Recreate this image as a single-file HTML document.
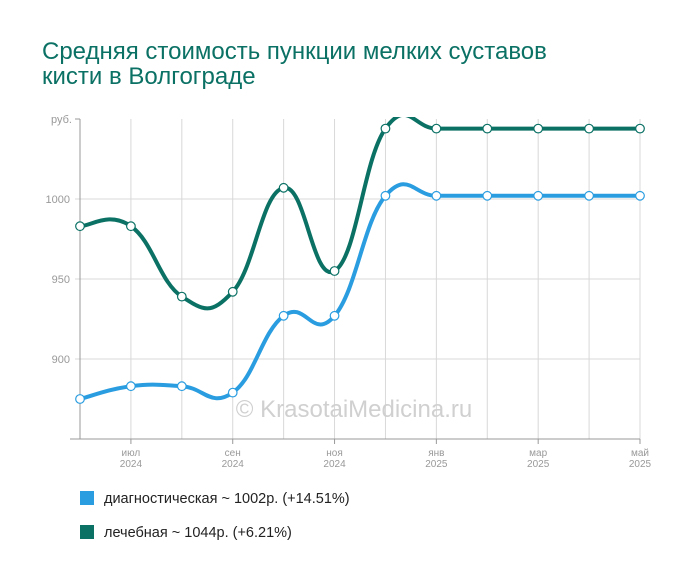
<!DOCTYPE html>
<html><head><meta charset="utf-8">
<style>
body{margin:0;background:#fff;width:700px;height:582px;overflow:hidden;font-family:"Liberation Sans",sans-serif;}
#title{position:absolute;left:42px;top:39px;font-size:24px;line-height:25px;color:#0b7165;}
.leg{position:absolute;left:80px;font-size:14.5px;color:#222;}
.leg span{display:inline-block;width:14px;height:14px;vertical-align:-2px;margin-right:10px;}
</style></head><body>
<div id="title">Средняя стоимость пункции мелких суставов<br>кисти в Волгограде</div>
<svg id="chart" width="700" height="582" style="position:absolute;left:0;top:0"></svg>
<div class="leg" style="top:491px"><span style="background:#2a9de0"></span>диагностическая ~ 1002р. (+14.51%)</div>
<div class="leg" style="top:525px"><span style="background:#0b7165"></span>лечебная ~ 1044р. (+6.21%)</div>
<script>
const months = ["","июл","","сен","","ноя","","янв","","мар","","май"];
const years = ["","2024","","2024","","2024","","2025","","2025","","2025"];
const yTicks = [900,950,1000];
const diagnostic = [875,883,883,879,927,927,1002,1002,1002,1002,1002,1002];
const treatment = [983,983,939,942,1007,955,1044,1044,1044,1044,1044,1044];

const svg=document.getElementById('chart');
const NS='http://www.w3.org/2000/svg';
const X0=80,DX=(640-80)/11;
const x=i=>X0+i*DX;
const y=v=>199-(v-1000)*1.6;
function mk(t,a,p){const e=document.createElementNS(NS,t);for(const k in a)e.setAttribute(k,a[k]);(p||svg).appendChild(e);return e;}
const defs=mk('defs',{});
const cp=mk('clipPath',{id:'plot'},defs);
mk('rect',{x:78,y:117,width:567,height:322},cp);
for(let i=1;i<12;i++){
  const g=mk('line',{x1:x(i),x2:x(i),y1:119,y2:439,stroke:'#d8d8d8','stroke-width':1});
  
  
}
yTicks.forEach(v=>{
  const g=mk('line',{x1:75,x2:640,y1:y(v),y2:y(v),stroke:'#d8d8d8'});
  
  
  const t=mk('text',{x:70,y:y(v)+4,'text-anchor':'end','font-size':11,fill:'#999'});t.textContent=v;
  
  
});
const ru=mk('text',{x:72,y:123,'text-anchor':'end','font-size':11,fill:'#999'});ru.textContent='руб.';


mk('line',{x1:75,x2:80,y1:119,y2:119,stroke:'#999'});
mk('line',{x1:80,x2:80,y1:119,y2:439,stroke:'#999'});
mk('line',{x1:70,x2:640,y1:439,y2:439,stroke:'#999'});
months.forEach((m,i)=>{
  if(!m)return;
  mk('line',{x1:x(i),x2:x(i),y1:439,y2:444,stroke:'#999'});
  const t=mk('text',{x:x(i),y:456,'text-anchor':'middle','font-size':10,fill:'#999'});t.textContent=m;
  
  
  const t2=mk('text',{x:x(i),y:467,'text-anchor':'middle','font-size':10,fill:'#999'});t2.textContent=years[i];
  
  
});
const wm=mk('text',{x:354,y:417,'text-anchor':'middle','font-size':24,fill:'#d0d0d0'});wm.textContent='© KrasotaiMedicina.ru';


function path(vals){
  const p=vals.map((v,i)=>[x(i),y(v)]);
  const k=4.6;
  let d='M'+p[0][0]+','+p[0][1];
  for(let i=0;i<p.length-1;i++){
    const p0=p[Math.max(0,i-1)],p1=p[i],p2=p[i+1],p3=p[Math.min(p.length-1,i+2)];
    const c1=[p1[0]+(p2[0]-p0[0])/k,p1[1]+(p2[1]-p0[1])/k];
    const c2=[p2[0]-(p3[0]-p1[0])/k,p2[1]-(p3[1]-p1[1])/k];
    d+=` C${c1[0]},${c1[1]} ${c2[0]},${c2[1]} ${p2[0]},${p2[1]}`;
  }
  return d;
}
[[diagnostic,'#2a9de0','series-diagnostic'],[treatment,'#0b7165','series-treatment']].forEach(([vals,col,name])=>{
  const g=mk('g',{'clip-path':'url(#plot)'});
  const l=mk('path',{d:path(vals),fill:'none',stroke:col,'stroke-width':4},g);
  
  
  vals.forEach((v,i)=>{
    const c=mk('circle',{cx:x(i),cy:y(v),r:4.3,fill:'#fff',stroke:col,'stroke-width':1.2});
    
    
  });
});
</script>
</body></html>
